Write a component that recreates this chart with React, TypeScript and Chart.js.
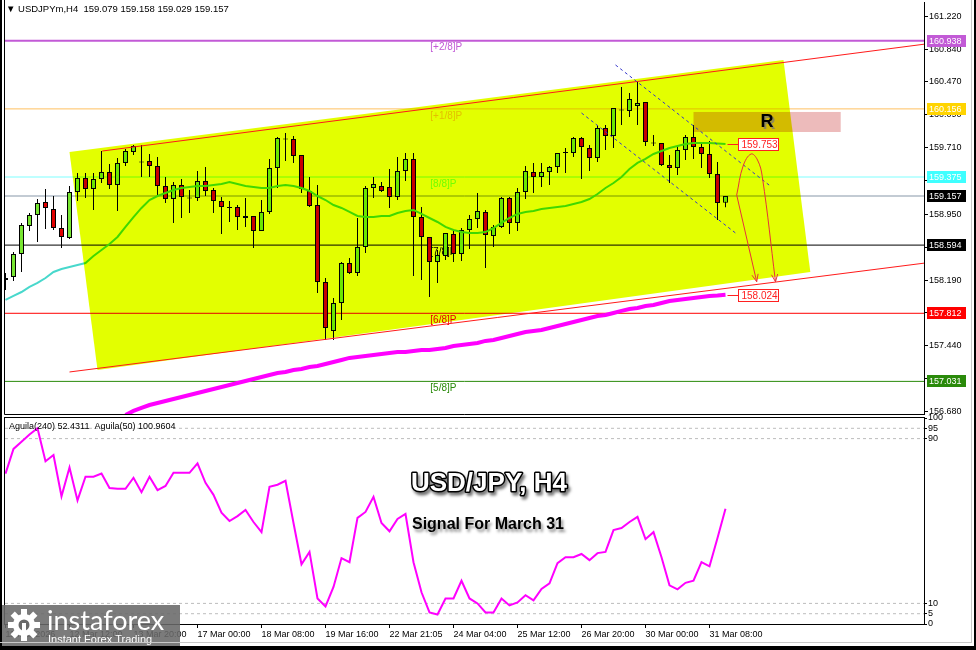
import React, { useEffect, useRef } from "react";
import { Chart, registerables } from "chart.js";

Chart.register(...registerables);

const FONT = '"Liberation Sans", Arial, sans-serif';

// ---------- candle data (USDJPYm, H4) ----------
const opens = [
  158.194, 158.228, 158.492, 158.813, 158.939, 159.088, 159.008, 158.790, 158.676, 159.203,
  159.364, 159.238, 159.352, 159.432, 159.283, 159.536, 159.662, 159.547, 159.559, 159.501,
  159.272, 159.123, 159.283, 159.140, 159.134, 159.329, 159.226, 159.100, 159.025, 159.031,
  158.905, 158.928, 158.756, 158.974, 159.478, 159.811, 159.811, 159.627, 159.215, 159.054,
  158.171, 157.609, 157.930, 158.389, 158.274, 158.572, 159.249, 159.272, 159.260, 159.146,
  159.444, 159.582, 158.916, 158.687, 158.400, 158.469, 158.722, 158.492, 158.767, 158.894,
  158.974, 158.699, 158.802, 159.134, 158.848, 159.203, 159.432, 159.375, 159.432, 159.490,
  159.650, 159.650, 159.822, 159.708, 159.593, 159.937, 159.845, 160.144, 160.132, 160.189,
  160.235, 159.765, 159.765, 159.513, 159.478, 159.685, 159.834, 159.719, 159.639, 159.410,
  159.079,
];
const highs = [
  158.274, 158.515, 158.848, 158.962, 159.123, 159.238, 159.157, 158.939, 159.272, 159.421,
  159.421, 159.421, 159.673, 159.524, 159.593, 159.696, 159.742, 159.742, 159.639, 159.605,
  159.375, 159.318, 159.352, 159.226, 159.444, 159.490, 159.249, 159.146, 159.100, 159.054,
  159.134, 158.928, 159.111, 159.582, 159.834, 159.880, 159.845, 159.627, 159.375, 159.283,
  158.217, 157.987, 158.400, 158.446, 158.905, 159.272, 159.375, 159.318, 159.467, 159.605,
  159.650, 159.650, 159.031, 158.687, 158.538, 158.733, 158.767, 158.790, 158.939, 159.192,
  158.997, 158.825, 159.146, 159.146, 159.249, 159.501, 159.536, 159.536, 159.501, 159.650,
  159.708, 159.834, 159.834, 159.742, 159.971, 159.971, 160.166, 160.407, 160.338, 160.465,
  160.235, 159.857, 159.765, 159.627, 159.742, 159.857, 159.971, 159.777, 159.788, 159.547,
  159.158,
];
const lows = [
  158.079, 158.182, 158.286, 158.756, 158.630, 158.779, 158.767, 158.561, 158.664, 159.100,
  159.134, 158.997, 159.306, 159.238, 158.985, 159.501, 159.627, 159.375, 159.375, 159.157,
  159.077, 158.848, 158.905, 158.962, 159.100, 159.157, 158.962, 158.722, 158.859, 158.767,
  158.802, 158.561, 158.756, 158.951, 159.249, 159.559, 159.536, 159.192, 159.031, 158.045,
  157.506, 157.506, 157.735, 158.263, 158.240, 158.504, 159.134, 159.203, 159.020, 159.111,
  159.329, 158.240, 158.194, 157.999, 158.160, 158.423, 158.400, 158.412, 158.550, 158.790,
  158.332, 158.572, 158.790, 158.722, 158.756, 159.123, 159.192, 159.260, 159.283, 159.421,
  159.421, 159.605, 159.352, 159.444, 159.547, 159.685, 159.708, 159.971, 160.063, 159.971,
  159.731, 159.731, 159.501, 159.306, 159.398, 159.570, 159.582, 159.478, 159.364, 158.882,
  159.029,
];
const closes = [
  158.217, 158.492, 158.825, 158.939, 159.077, 159.020, 158.790, 158.687, 159.203, 159.364,
  159.238, 159.352, 159.432, 159.283, 159.536, 159.673, 159.731, 159.541, 159.501, 159.272,
  159.123, 159.283, 159.146, 159.129, 159.329, 159.215, 159.100, 159.031, 159.020, 158.916,
  158.928, 158.756, 158.974, 159.478, 159.822, 159.805, 159.616, 159.238, 159.043, 158.171,
  157.644, 157.930, 158.389, 158.274, 158.572, 159.249, 159.295, 159.215, 159.146, 159.444,
  159.582, 158.916, 158.687, 158.400, 158.481, 158.733, 158.492, 158.767, 158.894, 158.985,
  158.710, 158.802, 159.134, 158.848, 159.203, 159.444, 159.375, 159.432, 159.490, 159.650,
  159.656, 159.822, 159.719, 159.593, 159.937, 159.845, 160.166, 160.138, 160.270, 160.224,
  159.777, 159.759, 159.513, 159.478, 159.685, 159.834, 159.719, 159.639, 159.410, 159.077,
  159.157,
];

// moving averages
const maFast = [
  157.965, 158.011, 158.056, 158.114, 158.160, 158.217, 158.286, 158.320, 158.343, 158.366,
  158.389, 158.469, 158.538, 158.607, 158.687, 158.802, 158.916, 159.020, 159.111, 159.157,
  159.192, 159.226, 159.249, 159.260, 159.272, 159.272, 159.283, 159.295, 159.318, 159.295,
  159.272, 159.260, 159.249, 159.249, 159.272, 159.283, 159.272, 159.249, 159.215, 159.157,
  159.111, 159.054, 159.020, 158.974, 158.928, 158.916, 158.916, 158.928, 158.928, 158.962,
  158.985, 158.997, 158.951, 158.905, 158.859, 158.802, 158.767, 158.744, 158.733, 158.733,
  158.744, 158.790, 158.848, 158.905, 158.951, 158.974, 158.985, 159.008, 159.020, 159.031,
  159.043, 159.066, 159.088, 159.123, 159.180, 159.249, 159.306, 159.375, 159.467, 159.536,
  159.582, 159.639, 159.673, 159.708, 159.731, 159.754, 159.765, 159.765, 159.765, 159.760,
  159.753,
];
const maSlowStart = 15;
const maSlow = [
  156.646, 156.692, 156.726, 156.760, 156.783, 156.806, 156.829, 156.852, 156.875, 156.898,
  156.921, 156.944, 156.967, 156.990, 157.013, 157.036, 157.059, 157.081, 157.104, 157.127,
  157.139, 157.162, 157.173, 157.196, 157.208, 157.231, 157.254, 157.277, 157.300, 157.311,
  157.323, 157.334, 157.346, 157.357, 157.368, 157.368, 157.380, 157.391, 157.391, 157.403,
  157.414, 157.437, 157.449, 157.461, 157.472, 157.495, 157.506, 157.529, 157.552, 157.575,
  157.598, 157.609, 157.621, 157.644, 157.666, 157.689, 157.712, 157.735, 157.758, 157.781,
  157.793, 157.816, 157.839, 157.861, 157.873, 157.896, 157.907, 157.930, 157.953, 157.965,
  157.976, 157.987, 157.999, 158.011, 158.016, 158.024,
];

// Aguila(240) oscillator
const aguila = [
  73, 85, 88.5, 92, 95, 79, 82, 62, 76, 60,
  71.5, 71.5, 73, 66, 65.6, 65.6, 71, 64, 71.5, 65,
  67, 73.4, 73.4, 73.4, 78, 68.5, 62.7, 54, 50, 52.4,
  55.4, 49.5, 44.6, 66.6, 67.6, 69.5, 49, 29, 35, 12.4,
  8.5, 18, 32, 30, 51.5, 54.4, 61.7, 49, 45, 51,
  53.4, 30, 15.4, 5.6, 4.6, 12.4, 12.4, 21, 12.4, 10,
  5.6, 5.6, 12.4, 9, 10.5, 14, 11.5, 17, 19.7, 29.5,
  32.4, 32.4, 34, 31, 34.4, 35, 45.6, 46.6, 49.5, 52,
  41.2, 44.6, 32.4, 18.8, 16.8, 20, 21, 30, 28, 41.7,
  56,
];
const aguilaLevels = [95, 90, 10, 5];
const aguilaTicks = [0, 5, 10, 90, 95, 100];

// axes
const xTickIdx = [0, 8, 16, 24, 32, 40, 48, 56, 64, 72, 80, 88];
const xTickLabels = [
  "11 Mar 2026", "12 Mar 12:00", "13 Mar 20:00", "17 Mar 00:00", "18 Mar 08:00", "19 Mar 16:00",
  "22 Mar 21:05", "24 Mar 04:00", "25 Mar 12:00", "26 Mar 20:00", "30 Mar 00:00", "31 Mar 08:00",
];
const priceTicks = [161.22, 160.84, 160.47, 160.09, 159.71, 159.33, 158.95, 158.57, 158.19, 157.82, 157.44, 157.06, 156.68];

// Murrey levels
const levelPrices = [160.938, 160.156, 159.375, 159.157, 158.594, 157.812, 157.031];
const levelNames = ["[+2/8]P", "[+1/8]P", "[8/8]P", "", "[7/8]P", "[6/8]P", "[5/8]P"];
const levelColors = ["#C25AD6", "#FFC060", "#7FFFFF", "#8797A8", "#000000", "#FF0000", "#2A8A0A"];
const tagColors = ["#C25AD6", "#FFD400", "#3FFFFF", "#000000", "#000000", "#FF0000", "#2A8A0A"];
const levelLabelX = 53.1;

// drawn objects
const channelUpper = [{ x: 12.1, y: 159.673 }, { x: 115, y: 160.9 }];
const channelLower = [{ x: 8, y: 157.139 }, { x: 115, y: 158.389 }];
const yellowZone = [{ x: 8, y: 159.662 }, { x: 97.25, y: 160.717 }, { x: 100.6, y: 158.286 }, { x: 11.5, y: 157.162 }];
const dashUpper = [{ x: 76.25, y: 160.66 }, { x: 95.6, y: 159.272 }];
const dashLower = [{ x: 72, y: 160.109 }, { x: 91.25, y: 158.733 }];
const arrowStraight = [{ x: 91.4, y: 159.169 }, { x: 93.9, y: 158.174 }];
const arrowCurve = [
  { x: 91.4, y: 159.169 }, { x: 92.2, y: 159.501 }, { x: 93.2, y: 159.639 },
  { x: 94.0, y: 159.57 }, { x: 94.6, y: 159.379 }, { x: 96.25, y: 158.174 },
];
const zoneX = [86, 104.4];
const zoneY = [159.891, 160.121];
const zoneLabelX = 95.2;
const noteTags = [{ price: 159.753, x: 91.5 }, { price: 158.024, x: 91.5 }];

const XMIN = -0.0625;
const XMAX = XMIN + 919 / 8;
const YMIN = 156.657;
const YMAX = 161.382;

const GREEN = "#78E632";
const RED = "#E00000";

function arrowHead(ctx: any, x0: number, y0: number, x1: number, y1: number) {
  const ang = Math.atan2(y1 - y0, x1 - x0);
  const L = 8;
  ctx.beginPath();
  ctx.moveTo(x1 - L * Math.cos(ang - 0.4), y1 - L * Math.sin(ang - 0.4));
  ctx.lineTo(x1, y1);
  ctx.lineTo(x1 - L * Math.cos(ang + 0.4), y1 - L * Math.sin(ang + 0.4));
  ctx.stroke();
}

const mainPlugin = {
  id: "mainDecor",
  beforeDatasetsDraw(chart: any) {
    const { ctx, chartArea: a } = chart;
    const x = chart.scales.x, y = chart.scales.y;
    ctx.save();
    ctx.beginPath();
    ctx.rect(a.left, a.top, a.right - a.left, a.bottom - a.top);
    ctx.clip();
    const rx0 = x.getPixelForValue(zoneX[0]), rx1 = x.getPixelForValue(zoneX[1]);
    const ry0 = y.getPixelForValue(zoneY[1]), ry1 = y.getPixelForValue(zoneY[0]);
    ctx.fillStyle = "#EDBBBB";
    ctx.fillRect(rx0, ry0, rx1 - rx0, ry1 - ry0);
    ctx.font = `10px ${FONT}`;
    ctx.textBaseline = "top";
    ctx.textAlign = "left";
    levelPrices.forEach((p, i) => {
      if (!levelNames[i]) return;
      ctx.fillStyle = levelColors[i];
      ctx.fillText(levelNames[i], x.getPixelForValue(levelLabelX), y.getPixelForValue(p) + 2);
    });
    ctx.restore();
  },
  afterDatasetDraw(chart: any, args: any) {
    if (chart.data.datasets[args.index].label !== "MA21") return;
    const { ctx, chartArea: a } = chart;
    const x = chart.scales.x, y = chart.scales.y;
    ctx.save();
    ctx.beginPath();
    ctx.rect(a.left, a.top, a.right - a.left, a.bottom - a.top);
    ctx.clip();
    ctx.globalCompositeOperation = "multiply";
    ctx.fillStyle = "#E3FF00";
    ctx.beginPath();
    yellowZone.forEach((p, i) => {
      const px = x.getPixelForValue(p.x), py = y.getPixelForValue(p.y);
      if (i === 0) ctx.moveTo(px, py); else ctx.lineTo(px, py);
    });
    ctx.closePath();
    ctx.fill();
    ctx.restore();
  },
  afterDraw(chart: any) {
    const { ctx, chartArea: a } = chart;
    const x = chart.scales.x, y = chart.scales.y;
    ctx.save();
    // arrow heads
    ctx.strokeStyle = "#E8323A";
    ctx.lineWidth = 1;
    [arrowStraight, arrowCurve].forEach((pts) => {
      const p0 = pts[pts.length - 2], p1 = pts[pts.length - 1];
      arrowHead(ctx, x.getPixelForValue(p0.x), y.getPixelForValue(p0.y), x.getPixelForValue(p1.x), y.getPixelForValue(p1.y));
    });
    // R label
    ctx.font = `bold 18px ${FONT}`;
    ctx.textAlign = "center";
    ctx.textBaseline = "middle";
    const rx = x.getPixelForValue(zoneLabelX), ry = y.getPixelForValue((zoneY[0] + zoneY[1]) / 2);
    ctx.fillStyle = "rgba(120,120,120,0.7)";
    ctx.fillText("R", rx + 2, ry + 2);
    ctx.fillStyle = "#000";
    ctx.fillText("R", rx, ry);
    // note tags in plot
    ctx.font = `10px ${FONT}`;
    ctx.textAlign = "left";
    noteTags.forEach((t) => {
      const ty = Math.round(y.getPixelForValue(t.price)) + 0.5;
      const tx = Math.round(x.getPixelForValue(t.x)) + 0.5;
      ctx.strokeStyle = "#FF2020";
      ctx.beginPath();
      ctx.moveTo(tx - 11, ty);
      ctx.lineTo(tx, ty);
      ctx.stroke();
      ctx.fillStyle = "#fff";
      ctx.fillRect(tx, ty - 6, 40, 12);
      ctx.strokeRect(tx, ty - 6, 40, 12);
      ctx.fillStyle = "#FF2020";
      ctx.fillText(t.price.toFixed(3), tx + 3, ty + 0.5);
    });
    // right axis tags
    ctx.font = `9px ${FONT}`;
    levelPrices.forEach((p, i) => {
      const ty = Math.round(y.getPixelForValue(p));
      ctx.fillStyle = tagColors[i];
      ctx.fillRect(a.right + 3, ty - 6, 39, 12);
      ctx.fillStyle = "#fff";
      ctx.fillText(p.toFixed(3), a.right + 5, ty + 0.5);
    });
    // header
    ctx.fillStyle = "#000";
    ctx.font = `9.5px ${FONT}`;
    ctx.fillText("\u25BC USDJPYm,H4  159.079 159.158 159.029 159.157", 6, 9);
    // frame
    ctx.strokeStyle = "#000";
    ctx.lineWidth = 1;
    ctx.beginPath();
    ctx.moveTo(a.left - 0.5, 0);
    ctx.lineTo(a.left - 0.5, a.bottom + 0.5);
    ctx.lineTo(a.right, a.bottom + 0.5);
    ctx.stroke();
    ctx.restore();
  },
};

const indPlugin = {
  id: "indDecor",
  afterDraw(chart: any) {
    const { ctx, chartArea: a } = chart;
    ctx.save();
    ctx.strokeStyle = "#000";
    ctx.lineWidth = 1;
    ctx.strokeRect(a.left - 0.5, a.top - 0.5, a.right - a.left + 1, a.bottom - a.top + 1);
    ctx.fillStyle = "#000";
    ctx.font = `9px ${FONT}`;
    ctx.textBaseline = "middle";
    ctx.textAlign = "left";
    ctx.fillText("Aguila(240) 52.4311  Aguila(50) 100.9604", 9, a.top + 9);
    // title
    ctx.textAlign = "center";
    ctx.font = `bold 26px ${FONT}`;
    ctx.shadowColor = "rgba(0,0,0,0.55)";
    ctx.shadowBlur = 3;
    ctx.shadowOffsetX = 2;
    ctx.shadowOffsetY = 3;
    ctx.lineWidth = 3;
    ctx.lineJoin = "round";
    ctx.strokeStyle = "#000";
    ctx.strokeText("USD/JPY, H4", 489, a.top + 66);
    ctx.shadowColor = "transparent";
    ctx.fillStyle = "#fff";
    ctx.fillText("USD/JPY, H4", 489, a.top + 66);
    ctx.font = `bold 16px ${FONT}`;
    ctx.shadowColor = "rgba(0,0,0,0.45)";
    ctx.shadowBlur = 3;
    ctx.shadowOffsetX = 2;
    ctx.shadowOffsetY = 3;
    ctx.fillStyle = "#000";
    ctx.fillText("Signal For March 31", 488, a.top + 107);
    ctx.shadowColor = "transparent";
    // logo
    const ly = 195;
    ctx.fillStyle = "rgba(105,105,105,0.88)";
    ctx.fillRect(0, ly, 180, 46);
    ctx.fillStyle = "#fff";
    const gx = 24, gy = ly + 20;
    for (let k = 0; k < 8; k++) {
      const ang = (k * Math.PI) / 4;
      ctx.save();
      ctx.translate(gx, gy);
      ctx.rotate(ang);
      ctx.fillRect(-3, -16, 6, 7);
      ctx.restore();
    }
    ctx.beginPath();
    ctx.arc(gx, gy, 11, 0, Math.PI * 2);
    ctx.fill();
    ctx.fillStyle = "rgba(105,105,105,1)";
    ctx.beginPath();
    ctx.arc(gx, gy, 5.5, 0, Math.PI * 2);
    ctx.fill();
    ctx.fillStyle = "#fff";
    ctx.fillRect(gx - 2, gy - 2, 4, 15);
    ctx.textAlign = "left";
    ctx.textBaseline = "alphabetic";
    ctx.font = `27px Lato, ${FONT}`;
    ctx.fillText("instaforex", 47, ly + 25);
    ctx.font = `11px ${FONT}`;
    ctx.fillText("Instant Forex Trading", 48, ly + 38);
    ctx.restore();
  },
};

export default function App() {
  const mainRef = useRef<HTMLCanvasElement>(null);
  const indRef = useRef<HTMLCanvasElement>(null);

  useEffect(() => {
    const idx = opens.map((_, i) => i);
    const lineBase = { type: "line", pointRadius: 0, clip: 0, fill: false, tension: 0 };
    const levelSets = levelPrices.map((p, i) => ({
      ...lineBase,
      label: "lvl" + i,
      data: [{ x: XMIN, y: p }, { x: XMAX, y: p }],
      borderColor: levelColors[i],
      borderWidth: i === 0 ? 2 : 1,
      order: 10,
    }));
    const main = new Chart(mainRef.current as HTMLCanvasElement, {
      type: "bar",
      data: {
        datasets: [
          ...levelSets,
          {
            type: "bar",
            label: "wicks",
            data: idx.map((i) => ({ x: i, y: [lows[i], highs[i]] })),
            backgroundColor: "#000",
            borderWidth: 0,
            barThickness: 1,
            grouped: false,
            inflateAmount: 0,
            order: 9,
          },
          {
            type: "bar",
            label: "bodies",
            data: idx.map((i) => ({ x: i, y: [opens[i], closes[i]] })),
            backgroundColor: idx.map((i) => (closes[i] >= opens[i] ? GREEN : RED)),
            borderColor: "#000",
            borderWidth: 1,
            borderSkipped: false,
            barThickness: 5,
            minBarLength: 1,
            grouped: false,
            inflateAmount: 0,
            order: 8,
          },
          {
            ...lineBase,
            label: "MA200",
            data: maSlow.map((v, k) => ({ x: k + maSlowStart, y: v })),
            borderColor: "#FF00FF",
            borderWidth: 4,
            order: 7,
          },
          {
            ...lineBase,
            label: "MA21",
            data: maFast.map((v, i) => ({ x: i, y: v })),
            borderColor: "#48D8CC",
            borderWidth: 2,
            order: 6,
          },
          { ...lineBase, label: "chU", data: channelUpper, borderColor: "#FF1A1A", borderWidth: 1, order: 3 },
          { ...lineBase, label: "chL", data: channelLower, borderColor: "#FF1A1A", borderWidth: 1, order: 3 },
          { ...lineBase, label: "dU", data: dashUpper, borderColor: "#3535CC", borderWidth: 1, borderDash: [3, 3], order: 2 },
          { ...lineBase, label: "dL", data: dashLower, borderColor: "#3535CC", borderWidth: 1, borderDash: [3, 3], order: 2 },
          { ...lineBase, label: "a1", data: arrowStraight, borderColor: "#E8323A", borderWidth: 1, order: 1 },
          { ...lineBase, label: "a2", data: arrowCurve, borderColor: "#E8323A", borderWidth: 1, tension: 0.4, order: 1 },
        ] as any,
      },
      options: {
        responsive: false,
        animation: false,
        devicePixelRatio: 1,
        events: [],
        layout: { padding: { left: 5, top: 2, bottom: 2, right: 0 } },
        plugins: { legend: { display: false }, tooltip: { enabled: false } },
        scales: {
          x: { type: "linear", min: XMIN, max: XMAX, display: false, offset: false },
          y: {
            type: "linear",
            position: "right",
            min: YMIN,
            max: YMAX,
            afterBuildTicks: (s: any) => {
              s.ticks = priceTicks.map((v) => ({ value: v }));
            },
            afterFit: (s: any) => {
              s.width = 52;
              s.paddingTop = 0;
              s.paddingBottom = 0;
            },
            ticks: {
              font: { family: FONT, size: 9 },
              color: "#000",
              padding: 1,
              callback: (v: any) => Number(v).toFixed(3),
            },
            grid: { drawOnChartArea: false, tickLength: 4, color: "#000" },
            border: { display: true, color: "#000" },
          },
        },
      } as any,
      plugins: [mainPlugin],
    });

    const ind = new Chart(indRef.current as HTMLCanvasElement, {
      type: "line",
      data: {
        datasets: [
          ...aguilaLevels.map((v) => ({
            label: "ref" + v,
            data: [{ x: XMIN, y: v }, { x: XMAX, y: v }],
            borderColor: "#BDBDBD",
            borderWidth: 1,
            borderDash: [3, 3],
            pointRadius: 0,
            order: 5,
          })),
          {
            label: "Aguila240",
            data: aguila.map((v, i) => ({ x: i, y: v })),
            borderColor: "#FF00FF",
            borderWidth: 2,
            pointRadius: 0,
            clip: 0,
            order: 0,
          },
        ] as any,
      },
      options: {
        responsive: false,
        animation: false,
        devicePixelRatio: 1,
        events: [],
        layout: { padding: { left: 5, top: 8, bottom: 0, right: 0 } },
        plugins: { legend: { display: false }, tooltip: { enabled: false } },
        scales: {
          x: {
            type: "linear",
            min: XMIN,
            max: XMAX,
            offset: false,
            afterBuildTicks: (s: any) => {
              s.ticks = xTickIdx.map((v) => ({ value: v }));
            },
            afterFit: (s: any) => {
              s.height = 26;
              s.paddingLeft = 0;
              s.paddingRight = 0;
            },
            ticks: {
              autoSkip: false,
              maxRotation: 0,
              minRotation: 0,
              align: "start",
              font: { family: FONT, size: 9 },
              color: "#000",
              padding: 1,
              callback: (_v: any, i: number) => xTickLabels[i],
            },
            grid: { drawOnChartArea: false, tickLength: 4, color: "#000" },
            border: { display: true, color: "#000" },
          },
          y: {
            type: "linear",
            position: "right",
            min: 0,
            max: 100,
            afterBuildTicks: (s: any) => {
              s.ticks = aguilaTicks.map((v) => ({ value: v }));
            },
            afterFit: (s: any) => {
              s.width = 52;
              s.paddingTop = 0;
              s.paddingBottom = 0;
            },
            ticks: {
              font: { family: FONT, size: 9 },
              color: "#000",
              padding: 1,
              callback: (v: any) => String(v),
            },
            grid: { drawOnChartArea: false, tickLength: 3, color: "#000" },
            border: { display: true, color: "#000" },
          },
        },
      } as any,
      plugins: [indPlugin],
    });

    return () => {
      main.destroy();
      ind.destroy();
    };
  }, []);

  return (
    <div style={{ position: "absolute", left: 0, top: 0, width: 976, height: 650, background: "#fff", overflow: "hidden" }}>
      <canvas ref={mainRef} width={976} height={416} style={{ position: "absolute", left: 0, top: 0 }} />
      <canvas ref={indRef} width={976} height={240} style={{ position: "absolute", left: 0, top: 410 }} />
      <div style={{ position: "absolute", left: 0, top: 0, width: 2, height: 650, background: "#000" }} />
      <div style={{ position: "absolute", left: 971, top: 0, width: 1, height: 643, background: "#C8C8C8" }} />
      <div style={{ position: "absolute", left: 0, top: 642, width: 972, height: 1, background: "#C8C8C8" }} />
      <div style={{ position: "absolute", left: 0, top: 646, width: 976, height: 4, background: "#000" }} />
      <div style={{ position: "absolute", left: 974, top: 0, width: 2, height: 650, background: "#000" }} />
    </div>
  );
}
